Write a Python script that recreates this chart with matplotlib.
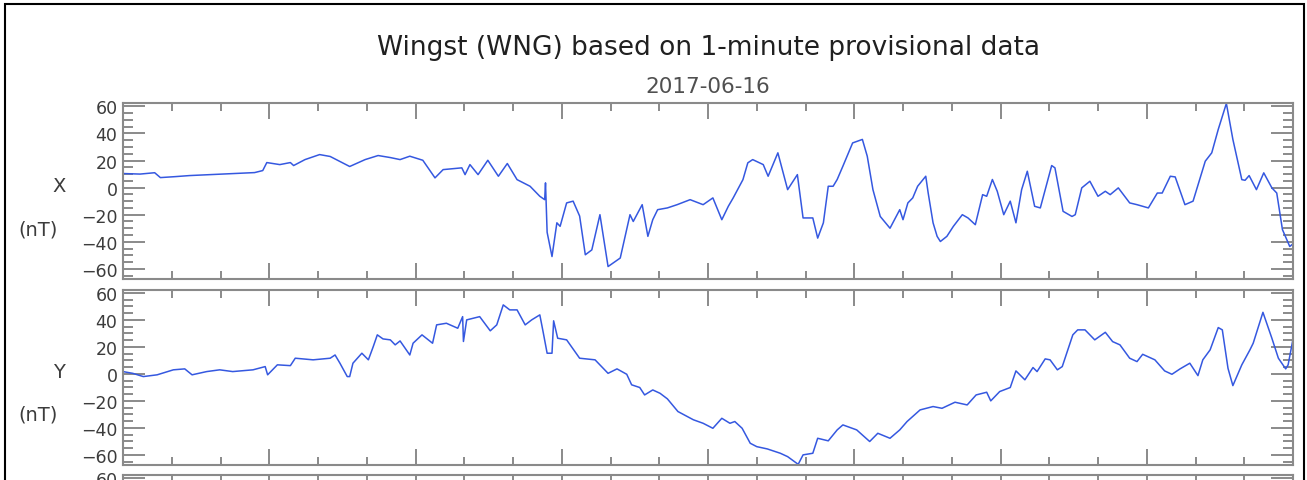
import matplotlib
matplotlib.use("Agg")
import matplotlib.pyplot as plt
from matplotlib.patches import Rectangle
from matplotlib.ticker import MultipleLocator

# minutes after 00:00 UT and field variation in nT
x_minutes = [0, 21, 39, 46, 64, 82, 107, 138, 162, 172, 177, 193, 206, 210, 224, 242,
             255, 267, 279, 298, 314, 329, 341, 353, 369, 384, 394, 417, 421, 427, 437,
             449, 462, 473, 485, 501, 513, 519, 520, 522, 528, 534, 538, 546, 554, 562,
             569, 577, 587, 597, 612, 624, 628, 639, 646, 652, 658, 670, 682, 698, 714,
             726, 737, 745, 751, 763, 769, 775, 788, 794, 806, 818, 830, 837, 849, 855,
             862, 868, 874, 879, 886, 898, 910, 916, 923, 932, 944, 956, 960, 966, 972,
             978, 988, 991, 997, 1002, 1006, 1014, 1022, 1033, 1040, 1049, 1058, 1063,
             1070, 1076, 1084, 1092, 1099, 1106, 1113, 1122, 1129, 1143, 1147, 1157,
             1168, 1172, 1180, 1190, 1200, 1209, 1215, 1225, 1239, 1248, 1262, 1273,
             1279, 1289, 1295, 1307, 1317, 1332, 1340, 1348, 1358, 1366, 1377, 1381,
             1386, 1395, 1404, 1414, 1420, 1427, 1436, 1441]
x_values = [10.4, 10.0, 11.0, 7.4, 8.1, 8.9, 9.6, 10.4, 11.1, 12.6, 18.5, 17.0, 18.5, 16.3,
            20.7, 24.4, 23.0, 19.3, 15.6, 20.7, 23.7, 22.2, 20.7, 23.2, 20.2, 7.2, 13.3,
            14.6, 9.6, 17.0, 9.6, 20.2, 8.4, 17.8, 5.9, 1.0, -6.4, -8.9, 3.5, -33.0, -50.9,
            -26.0, -28.6, -11.3, -10.0, -21.0, -49.6, -46.0, -20.0, -58.3, -52.0, -20.0,
            -25.0, -12.6, -36.0, -23.7, -16.3, -15.0, -12.6, -8.9, -12.6, -7.6, -23.7,
            -13.8, -7.6, 5.9, 18.3, 20.7, 17.0, 8.4, 25.7, -1.5, 9.6, -22.4, -22.4, -37.3,
            -26.0, 1.0, 1.0, 6.0, 15.8, 33.0, 35.6, 23.2, -1.5, -21.3, -30.0, -16.3, -23.7,
            -11.3, -7.6, 1.0, 8.4, -4.0, -26.0, -36.0, -39.8, -36.0, -28.6, -20.0, -22.4,
            -27.4, -5.2, -6.4, 6.0, -2.7, -20.0, -10.0, -26.0, -1.5, 12.1, -13.8, -15.0,
            16.3, 14.6, -17.5, -21.3, -20.0, -0.2, 4.7, -6.4, -2.7, -5.2, -0.2, -11.3,
            -12.6, -15.0, -4.0, -4.0, 8.4, 7.9, -12.6, -10.0, 19.5, 25.7, 43.0, 62.2, 35.6,
            5.9, 5.4, 8.9, -1.5, 10.9, -0.2, -4.0, -31.0, -43.5, -41.0]

y_minutes = [0, 12, 25, 42, 62, 76, 85, 103, 119, 135, 160, 175, 178, 190, 206, 212, 234,
             255, 261, 267, 276, 279, 283, 294, 302, 308, 313, 320, 329, 335, 341, 353,
             357, 368, 381, 386, 398, 412, 418, 419, 423, 439, 452, 460, 468, 476, 485,
             495, 503, 513, 517, 522, 528, 530, 535, 546, 562, 581, 597, 608, 620, 626,
             636, 642, 652, 661, 670, 683, 702, 714, 726, 737, 747, 753, 762, 772, 780,
             793, 809, 818, 831, 837, 849, 855, 868, 879, 886, 903, 919, 929, 944, 956,
             965, 981, 997, 1008, 1024, 1039, 1050, 1063, 1068, 1079, 1092, 1099, 1110,
             1114, 1120, 1125, 1135, 1141, 1150, 1156, 1169, 1175, 1184, 1196, 1209,
             1218, 1227, 1239, 1248, 1255, 1270, 1282, 1291, 1301, 1313, 1323, 1329,
             1338, 1348, 1353, 1360, 1366, 1377, 1387, 1391, 1403, 1414, 1422, 1431,
             1434, 1441]
y_values = [1.7, 0.4, -2.0, -0.7, 3.0, 3.7, -0.7, 1.7, 3.0, 1.7, 3.0, 5.4, -0.7, 6.7, 6.1,
            11.6, 10.4, 11.6, 14.0, 7.9, -2.0, -2.0, 7.9, 15.3, 10.4, 20.2, 28.9, 25.9,
            25.2, 21.5, 24.4, 14.0, 22.7, 28.9, 22.7, 36.3, 37.5, 33.8, 42.4, 24.0, 40.0,
            42.4, 31.9, 36.3, 51.1, 47.4, 47.4, 36.3, 40.0, 43.7, 31.3, 15.3, 15.3, 39.3,
            26.4, 25.2, 11.6, 10.4, 0.4, 3.7, -0.3, -8.1, -10.1, -15.6, -11.9, -14.4,
            -18.5, -27.9, -34.0, -36.6, -40.3, -32.9, -36.6, -35.3, -40.3, -51.4, -53.9,
            -55.6, -58.8, -61.3, -67.0, -60.0, -58.8, -47.7, -49.6, -41.5, -37.8, -41.5,
            -50.1, -44.0, -47.7, -41.5, -35.3, -26.7, -24.2, -25.5, -21.0, -23.0, -15.6,
            -13.6, -20.0, -13.1, -10.1, 2.2, -4.4, -0.7, 4.7, 1.7, 11.1, 10.4, 3.0, 5.4,
            28.9, 32.6, 32.6, 25.2, 30.8, 23.9, 21.5, 11.6, 9.1, 14.5, 10.4, 2.2, -0.3,
            3.7, 7.9, -1.3, 10.4, 17.8, 34.3, 32.6, 4.1, -8.7, 6.7, 17.8, 22.7, 45.6,
            26.4, 11.6, 3.7, 6.7, 28.9]

y_ticks = [-60, -40, -20, 0, 20, 40, 60]
title = "Wingst (WNG) based on 1-minute provisional data"
date = "2017-06-16"

W, H = 1307, 481
fig = plt.figure(figsize=(W / 100, H / 100), dpi=100)
fig.patch.set_facecolor("white")

AX_GRAY = "#8a8a8a"
TXT_GRAY = "#3c3c3c"
LINE = "#3558e0"


def panel(top_px, bottom_px, labels=True):
    ax = fig.add_axes([123 / W, 1 - bottom_px / H, 1170 / W, (bottom_px - top_px) / H])
    ax.set_xlim(0, 24)
    ax.set_ylim(-67.5, 62.5)
    ax.xaxis.set_major_locator(MultipleLocator(3))
    ax.xaxis.set_minor_locator(MultipleLocator(1))
    ax.set_yticks(y_ticks)
    if not labels:
        # only the top label of the cut-off third panel shows in the image
        ax.set_yticklabels([""] * (len(y_ticks) - 1) + [str(y_ticks[-1])])
    ax.yaxis.set_minor_locator(MultipleLocator(5))
    ax.tick_params(which="both", direction="in", top=True, right=True, color=AX_GRAY,
                   width=1.4, labelbottom=False, labelcolor=TXT_GRAY, labelsize=12.5, pad=4)
    ax.tick_params(axis="y", which="major", length=16)
    ax.tick_params(axis="y", which="minor", length=7)
    ax.tick_params(axis="x", which="major", length=11.5)
    ax.tick_params(axis="x", which="minor", length=5.5)
    for s in ax.spines.values():
        s.set_color(AX_GRAY)
        s.set_linewidth(1.5)
    return ax


ax1 = panel(104, 280)
ax1.plot([m / 60 for m in x_minutes], x_values, color=LINE, lw=1.1)
ax2 = panel(290.5, 466)
ax2.plot([m / 60 for m in y_minutes], y_values, color=LINE, lw=1.1)
ax3 = panel(475.5, 651.5, labels=False)  # third component, cut off by the image edge

fig.text(708 / W, 1 - 48 / H, title, ha="center", va="center", fontsize=19, color="#202020")
fig.text(708 / W, 1 - 87 / H, date, ha="center", va="center", fontsize=15.5, color="#505050")

for comp, yc in [("X", 187), ("Y", 372)]:
    fig.text(59 / W, 1 - yc / H, comp, ha="center", va="center", fontsize=14, color=TXT_GRAY)
    fig.text(38 / W, 1 - (yc + 43) / H, "(nT)", ha="center", va="center", fontsize=14,
             color=TXT_GRAY)

fig.patches.append(Rectangle((5 / W, -0.2), 1299 / W, 1.2 - 5 / H, transform=fig.transFigure,
                             fill=False, edgecolor="black", linewidth=1.5))

fig.savefig("out.png", dpi=100)
